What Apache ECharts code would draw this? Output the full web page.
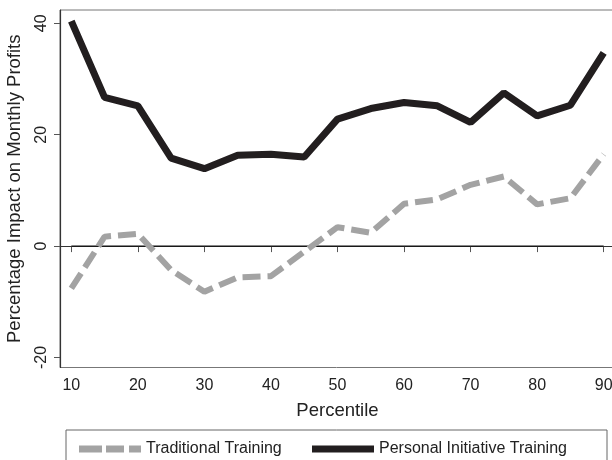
<!DOCTYPE html>
<html><head><meta charset="utf-8">
<script src="https://cdn.jsdelivr.net/npm/echarts@6/dist/echarts.min.js"></script>
<style>html,body{margin:0;padding:0;background:#fff}#c{width:612px;height:460px}</style>
</head><body><div id="c"></div>
<script>
const percentiles = [10,15,20,25,30,35,40,45,50,55,60,65,70,75,80,85,90];
const traditional = [-7.6,1.7,2.2,-4.3,-8.2,-5.6,-5.4,-1.0,3.4,2.4,7.6,8.4,11.0,12.5,7.5,8.6,16.5];
const personal = [40.4,26.7,25.2,15.8,13.9,16.3,16.5,16.0,22.8,24.7,25.8,25.2,22.2,27.5,23.4,25.3,34.7];
const xTicks = [10,20,30,40,50,60,70,80,90];
const yTicks = [-20,0,20,40];
const zeroLine = [[10,0],[90,0]];

const font = 'Liberation Sans, Arial, Helvetica, sans-serif';
const chart = echarts.init(document.getElementById('c'), null, {renderer:'canvas'});
chart.setOption({
  animation:false,
  backgroundColor:'#fff',
  grid:{left:60, top:10, width:555, height:357.5, show:true, borderColor:'#777', borderWidth:1,
        containLabel:false, outerBoundsMode:'none'},
  xAxis:{type:'value', min:8.3, max:91.7,
    name:'Percentile', nameLocation:'middle', nameGap:34,
    nameTextStyle:{fontFamily:font, fontSize:18.5, color:'#222'},
    axisLine:{lineStyle:{color:'#333', width:1.2}},
    axisTick:{customValues:xTicks, length:6, lineStyle:{color:'#555'}},
    axisLabel:{customValues:xTicks, fontFamily:font, fontSize:16, color:'#222', margin:10},
    splitLine:{show:false}},
  yAxis:{type:'value', min:-21.8, max:42.4,
    name:'Percentage Impact on Monthly Profits', nameLocation:'middle', nameGap:36,
    nameTextStyle:{fontFamily:font, fontSize:18.5, color:'#222'},
    axisLine:{show:true, lineStyle:{color:'#333', width:1.2}},
    axisTick:{show:true, customValues:yTicks, length:6, lineStyle:{color:'#555'}},
    axisLabel:{customValues:yTicks, rotate:90, fontFamily:font, fontSize:16, color:'#222', margin:10},
    splitLine:{show:false}},
  legend:[
    {data:[{name:'Traditional Training', icon:'path://M0,0h23v7h-23z M27,0h18v7h-18z M50,0h12v7h-12z'}],
     left:74, top:436, itemWidth:62, itemHeight:7, itemGap:0,
     textStyle:{fontFamily:font, fontSize:16, color:'#222', padding:[0,0,0,0]}},
    {data:[{name:'Personal Initiative Training', icon:'rect'}], left:307, top:436, itemWidth:62, itemHeight:7,
     textStyle:{fontFamily:font, fontSize:16, color:'#222', padding:[0,0,0,0]}}
  ],
  graphic:[{type:'rect', shape:{x:66, y:430, width:541, height:60}, style:{fill:'none', stroke:'#666', lineWidth:1}, silent:true}],
  series:[
    {name:'zero', type:'line', data:zeroLine, symbol:'none', silent:true,
     lineStyle:{color:'#111', width:1.2}, z:2},
    {name:'Traditional Training', type:'line', data:percentiles.map((p,i)=>[p,traditional[i]]),
     symbol:'none', color:'#a3a3a3', lineStyle:{color:'#a3a3a3', width:6, type:[18,7]}, z:3},
    {name:'Personal Initiative Training', type:'line', data:percentiles.map((p,i)=>[p,personal[i]]),
     symbol:'none', color:'#221e1f', lineStyle:{color:'#221e1f', width:7}, z:4}
  ]
});
</script></body></html>
